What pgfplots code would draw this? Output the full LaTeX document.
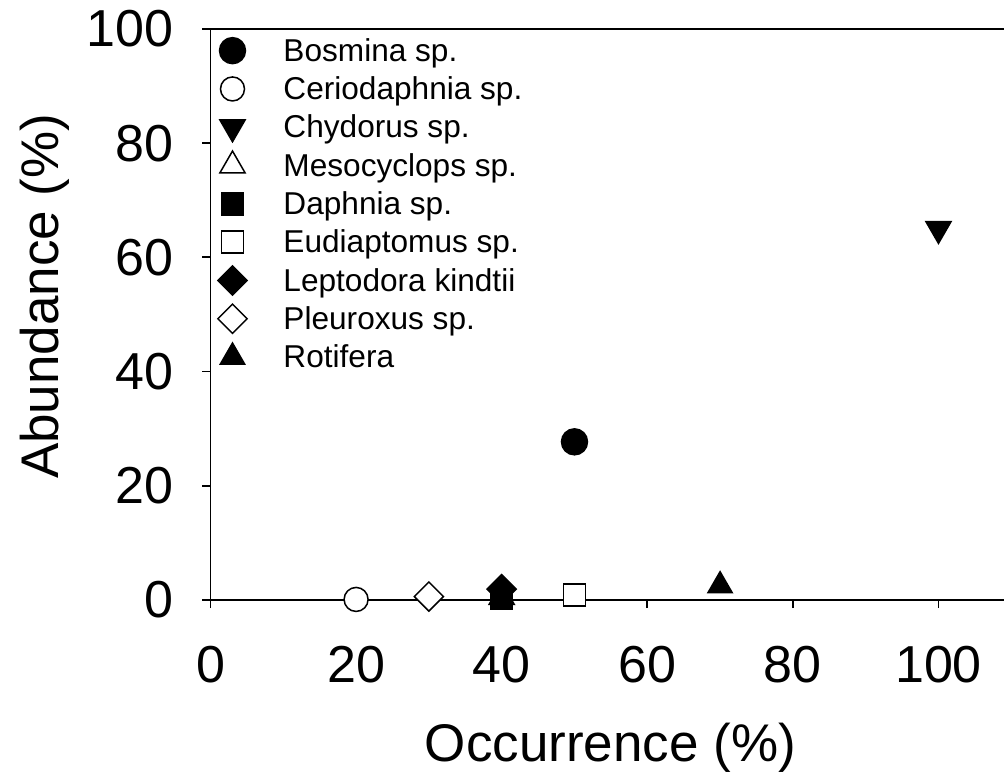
\documentclass[border=0pt]{standalone}
\usepackage{fontspec}
\setmainfont{Liberation Sans}
\usepackage{pgfplots}
\pgfplotsset{compat=1.18}
\begin{document}
\begin{tikzpicture}
\begin{axis}[
  name=ax,
  at={(0pt,0pt)}, anchor=south west,
  scale only axis,
  width=793.5pt, height=571pt,
  xmin=0, xmax=109, ymin=0, ymax=100,
  axis x line*=box, axis y line*=left,
  axis line style={-, line width=1.8pt},
  xtick={0,20,...,100}, ytick={0,20,...,100},
  tick pos=left,
  tick align=outside, major tick length=8pt,
  every tick/.style={black, line width=1.8pt},
  minor tick num=0,
  /pgf/number format/assume math mode=true,
  tick label style={font=\fontsize{52}{60}\selectfont},
  yticklabel style={xshift=-26pt},
  xticklabel style={yshift=-35pt},
  xlabel={Occurrence (\%)}, ylabel={Abundance (\%)},
  label style={font=\fontsize{53}{62}\selectfont},
  xlabel style={at={(axis description cs:0.504,-0.259)}, anchor=center},
  ylabel style={at={(axis description cs:-0.209,0.532)}, anchor=center},
  legend style={draw=none, fill=none, at={(0,1)}, anchor=north west, xshift=7pt, yshift=-2.5pt, inner sep=0pt, outer sep=0pt, row sep=0pt, column sep=0pt, font=\fontsize{31.6}{36}\selectfont, nodes={inner xsep=0pt, inner ysep=0pt}},
  legend cell align=left,
  legend image code/.code={\path[draw=none,fill=none] (-15pt,-19.15pt) rectangle (51pt,19.15pt); \draw[#1] plot coordinates {(0pt,0pt)};},
  clip=false,
  every axis plot/.append style={only marks, black, line width=1.5pt},
]
\addplot[mark=*, mark size=13pt, mark options={fill=black}] coordinates {(50,27.7)};
\addlegendentry{Bosmina sp.}
\addplot[mark=*, mark size=12pt, mark options={fill=white}] coordinates {(20,0.1)};
\addlegendentry{Ceriodaphnia sp.}
\addplot[mark=triangle*, mark size=14.5pt, mark options={fill=black, rotate=180}] coordinates {(100,65)};
\addlegendentry{Chydorus sp.}
\addplot[mark=triangle*, mark size=14.5pt, mark options={fill=white}] coordinates {(40,0.5)};
\addlegendentry{Mesocyclops sp.}
\addplot[mark=square*, mark size=11pt, mark options={fill=black}] coordinates {(40,0.35)};
\addlegendentry{Daphnia sp.}
\addplot[mark=square*, mark size=11pt, mark options={fill=white}] coordinates {(50,0.9)};
\addlegendentry{Eudiaptomus sp.}
\addplot[mark=square*, mark size=10.3pt, mark options={fill=black, rotate=45}] coordinates {(40,1.9)};
\addlegendentry{Leptodora kindtii}
\addplot[mark=square*, mark size=10.3pt, mark options={fill=white, rotate=45}] coordinates {(30,0.6)};
\addlegendentry{Pleuroxus sp.}
\addplot[mark=triangle*, mark size=14pt, mark options={fill=black}] coordinates {(70,2.5)};
\addlegendentry{Rotifera}
\end{axis}
\pgfresetboundingbox
\path (-210.5pt,-184pt) rectangle (793.5pt,600pt);
\end{tikzpicture}
\end{document}
